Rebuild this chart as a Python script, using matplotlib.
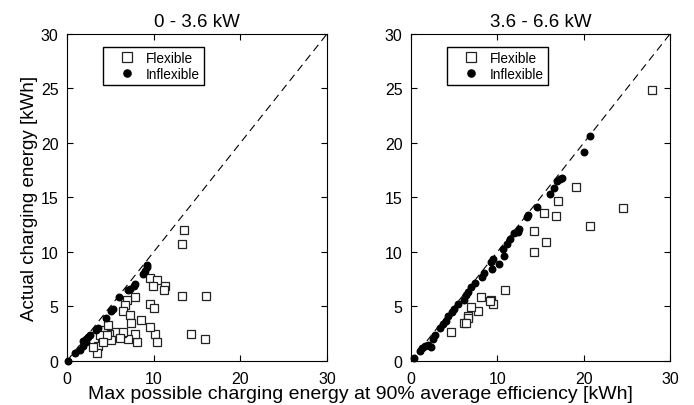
import numpy as np
import matplotlib
matplotlib.use("Agg")
import matplotlib.pyplot as plt

plt.rcParams['font.family'] = ['Liberation Sans', 'DejaVu Sans']

titles = ['0 - 3.6 kW', '3.6 - 6.6 kW']

# 0 - 3.6 kW panel
left_flex_x = [13.5, 13.3, 13.3, 16.1, 14.3, 15.9, 9.56, 10.4, 9.9, 11.3, 11.2, 9.56, 10.1,
               10.2, 10.4, 7.8, 8.5, 9.56, 6.9, 6.7, 6.5, 7.25, 7.4, 8.1, 7.8, 7.1, 6.3, 5.5,
               4.9, 5.1, 4.2, 4.0, 3.6, 3.5, 3.0, 4.7, 6.5, 6.1, 3.8, 4.6, 4.1]
left_flex_y = [12.0, 10.7, 6.0, 6.0, 2.5, 2.0, 7.6, 7.4, 6.9, 6.9, 6.5, 5.2, 4.9,
               2.5, 1.7, 5.9, 3.8, 3.1, 5.6, 5.1, 4.6, 4.2, 3.5, 1.7, 2.5, 2.0, 2.6, 2.7,
               2.5, 1.9, 2.8, 2.05, 1.4, 0.7, 1.3, 3.3, 2.7, 2.1, 2.35, 2.35, 1.75]
left_inflex_x = [0.1, 0.9, 1.5, 1.8, 1.9, 2.2, 2.4, 2.7, 3.3, 3.6, 4.5, 5.1, 5.3, 6.0, 7.1,
                 7.3, 7.7, 7.8, 8.8, 9.0, 9.2, 9.25, 2.2]
left_inflex_y = [0.0, 0.7, 1.0, 1.4, 1.8, 2.0, 2.2, 2.4, 2.8, 3.0, 3.9, 4.55, 4.8, 5.9, 6.5,
                 6.6, 6.9, 7.1, 8.0, 8.3, 8.6, 8.8, 1.75]

# 3.6 - 6.6 kW panel
right_flex_x = [27.9, 24.5, 20.7, 19.1, 17.0, 16.8, 15.4, 14.3, 14.3, 15.6, 10.9, 9.3, 9.5,
                9.15, 8.1, 7.8, 6.9, 6.6, 6.6, 6.1, 6.4, 4.6]
right_flex_y = [24.9, 14.0, 12.4, 16.0, 14.7, 13.3, 13.6, 11.9, 10.0, 10.9, 6.5, 5.6, 5.2,
                5.5, 5.9, 4.6, 4.95, 4.1, 3.9, 3.5, 3.5, 2.7]
right_inflex_x = [0.4, 1.0, 1.3, 1.6, 2.0, 2.3, 2.5, 2.8, 3.4, 3.7, 4.0, 4.3, 4.7, 5.0, 5.5,
                  6.1, 6.4, 6.6, 7.0, 7.4, 8.2, 8.5, 9.3, 9.5, 9.4, 10.2, 10.6, 10.8, 11.1,
                  11.5, 11.9, 12.4, 12.5, 13.4, 13.6, 14.6, 16.1, 16.6, 16.9, 17.3, 17.5,
                  20.0, 20.7]
right_inflex_y = [0.3, 0.9, 1.2, 1.4, 1.5, 1.3, 2.0, 2.4, 3.0, 3.4, 3.7, 4.1, 4.5, 4.8, 5.25,
                  5.6, 6.1, 6.3, 6.8, 7.15, 7.7, 8.1, 9.1, 9.4, 8.4, 8.9, 10.3, 9.6, 10.75,
                  11.2, 11.7, 11.8, 12.1, 13.2, 13.35, 14.1, 15.3, 15.9, 16.5, 16.7, 16.8,
                  19.2, 20.6]

panels = [(left_flex_x, left_flex_y, left_inflex_x, left_inflex_y),
          (right_flex_x, right_flex_y, right_inflex_x, right_inflex_y)]

fig = plt.figure(figsize=(6.94, 4.06), dpi=100)
positions = [[0.0965, 0.1084, 0.3746, 0.8054], [0.5922, 0.1084, 0.3732, 0.8054]]

for i, (fx, fy, ix, iy) in enumerate(panels):
    ax = fig.add_axes(positions[i])
    ax.plot([0, 30], [0, 30], color='k', linestyle=(0, (7, 4.5)), linewidth=0.8)
    ax.plot(fx, fy, 's', markersize=6.3, markerfacecolor='white', markeredgecolor='#222222',
            markeredgewidth=0.9, label='Flexible', clip_on=False)
    ax.plot(ix, iy, 'o', markersize=4.7, color='k', label='Inflexible', clip_on=False)
    ax.set_xlim(0, 30)
    ax.set_ylim(0, 30)
    ax.set_xticks([0, 10, 20, 30])
    ax.set_yticks([0, 5, 10, 15, 20, 25, 30])
    ax.tick_params(direction='in', top=True, right=True, length=4, labelsize=11.5)
    ax.tick_params(axis='x', pad=7)
    ax.tick_params(axis='y', pad=6)
    ax.set_title(titles[i], fontsize=13.5, pad=6)
    ax.legend(loc='upper left', bbox_to_anchor=(0.138, 0.96), borderaxespad=0,
              fontsize=9.8, frameon=True, fancybox=False, edgecolor='k', framealpha=1,
              handlelength=3.0, handletextpad=-0.15, borderpad=0.3, labelspacing=0.12,
              markerscale=1.1)
    if i == 0:
        ax.set_ylabel('Actual charging energy [kWh]', fontsize=13.5, labelpad=2)

fig.text(0.519, 0.017, 'Max possible charging energy at 90% average efficiency [kWh]',
         ha='center', va='baseline', fontsize=14)

plt.savefig('out.png', dpi=100)
